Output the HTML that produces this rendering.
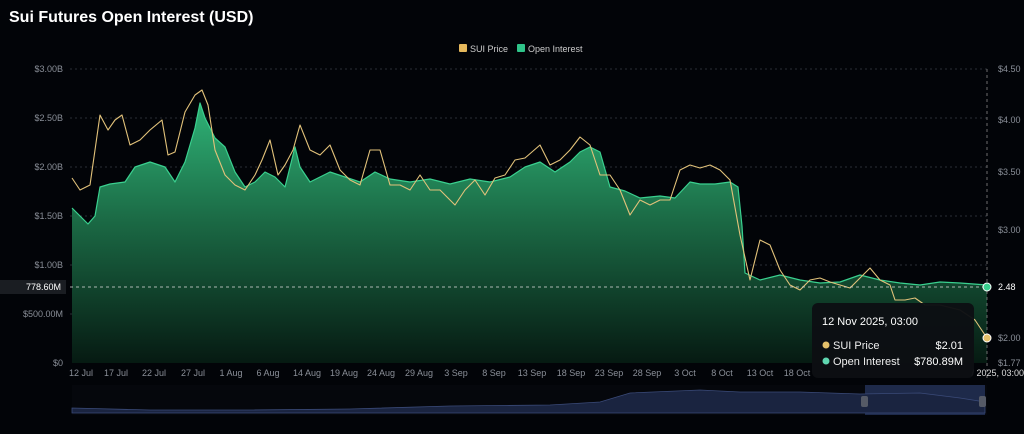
<!DOCTYPE html>
<html><head><meta charset="utf-8"><style>
body{margin:0;background:#020408;width:1024px;height:429px;overflow:hidden;font-family:"Liberation Sans",sans-serif}
</style></head><body>
<svg width="1024" height="429" xmlns="http://www.w3.org/2000/svg" font-family="Liberation Sans, sans-serif">
<defs>
<linearGradient id="g" x1="0" y1="0" x2="0" y2="1">
<stop offset="0" stop-color="#2fb377"/><stop offset="0.45" stop-color="#1b6a45"/><stop offset="1" stop-color="#061a12"/>
</linearGradient>
</defs>
<rect width="1024" height="429" fill="#020408"/>
<text x="9" y="22" fill="#fff" font-size="16" font-weight="bold">Sui Futures Open Interest (USD)</text>
<rect x="459" y="44" width="8" height="8" rx="1" fill="#e5b85c"/>
<text x="470" y="52" fill="#ccc" font-size="9">SUI Price</text>
<rect x="517" y="44" width="8" height="8" rx="1" fill="#2fc489"/>
<text x="528" y="52" fill="#ccc" font-size="9">Open Interest</text>
<g stroke="#2a2e36" stroke-dasharray="2,3" stroke-width="1">
<line x1="70" y1="69" x2="987" y2="69"/><line x1="70" y1="118" x2="987" y2="118"/>
<line x1="70" y1="167" x2="987" y2="167"/><line x1="70" y1="216" x2="987" y2="216"/>
<line x1="70" y1="265" x2="987" y2="265"/><line x1="70" y1="314" x2="987" y2="314"/>
</g>
<g fill="#8a8f98" font-size="9" text-anchor="end">
<text x="63" y="72">$3.00B</text><text x="63" y="121">$2.50B</text><text x="63" y="170">$2.00B</text>
<text x="63" y="219">$1.50B</text><text x="63" y="268">$1.00B</text><text x="63" y="317">$500.00M</text><text x="63" y="366">$0</text>
</g>
<rect x="0" y="280" width="66" height="14" fill="#1a1d22"/>
<text x="61" y="290" fill="#fff" font-size="9" text-anchor="end">778.60M</text>
<g fill="#8a8f98" font-size="9">
<text x="998" y="72">$4.50</text><text x="998" y="123">$4.00</text><text x="998" y="175">$3.50</text>
<text x="998" y="233">$3.00</text><text x="998" y="341">$2.00</text><text x="998" y="366">$1.77</text>
</g>
<text x="998" y="290" fill="#fff" font-size="9">2.48</text>
<path fill="url(#g)" d="M72,363 L72,208 L80,216 L88,224 L95,216 L100,187 L110,184 L125,182 L135,167 L150,162 L165,167 L175,182 L185,162 L195,128 L200,103 L205,118 L215,138 L225,147 L235,172 L245,187 L255,182 L265,172 L275,177 L285,187 L295,147 L300,167 L310,182 L320,177 L330,172 L345,177 L360,182 L375,172 L390,179 L410,182 L430,179 L450,184 L470,179 L490,182 L510,177 L525,167 L540,162 L555,172 L570,162 L580,152 L590,147 L600,152 L610,187 L625,191 L640,198 L660,196 L675,198 L690,182 L700,184 L715,184 L730,182 L738,187 L742,226 L745,273 L760,280 L780,275 L800,280 L820,283 L840,282 L860,275 L880,280 L900,283 L920,285 L940,282 L960,283 L987,285 L987,363 Z"/>
<polyline fill="none" stroke="#3ad08f" stroke-width="1.2" stroke-linejoin="round" points="72,208 80,216 88,224 95,216 100,187 110,184 125,182 135,167 150,162 165,167 175,182 185,162 195,128 200,103 205,118 215,138 225,147 235,172 245,187 255,182 265,172 275,177 285,187 295,147 300,167 310,182 320,177 330,172 345,177 360,182 375,172 390,179 410,182 430,179 450,184 470,179 490,182 510,177 525,167 540,162 555,172 570,162 580,152 590,147 600,152 610,187 625,191 640,198 660,196 675,198 690,182 700,184 715,184 730,182 738,187 742,226 745,273 760,280 780,275 800,280 820,283 840,282 860,275 880,280 900,283 920,285 940,282 960,283 987,285"/>
<polyline fill="none" stroke="#e2c27a" stroke-width="1.1" stroke-linejoin="round" points="72,178 80,190 90,185 100,115 108,130 115,120 122,115 130,145 140,140 150,130 162,120 168,155 175,152 185,112 195,95 202,90 208,105 215,150 225,175 235,185 245,190 255,175 262,160 270,140 278,175 285,165 293,150 300,125 310,150 320,155 330,145 340,170 350,180 360,185 370,150 380,150 390,185 400,185 410,190 420,175 430,190 440,190 455,205 465,190 475,180 485,195 495,178 505,175 515,160 525,158 540,145 550,165 560,160 570,150 580,137 590,145 600,175 610,175 620,190 630,215 640,200 650,205 660,200 670,200 680,170 690,165 700,168 710,165 720,170 730,180 740,235 750,280 760,240 770,245 780,270 790,285 800,290 810,280 820,278 830,282 840,285 850,288 860,278 870,268 880,280 890,285 895,300 905,300 915,298 925,305 940,305 960,310 975,320 987,338"/>
<line x1="70" y1="287" x2="987" y2="287" stroke="#ddd" stroke-dasharray="3,3" stroke-width="0.8"/>
<line x1="987" y1="69" x2="987" y2="378" stroke="#888" stroke-dasharray="3,3" stroke-width="0.8"/>
<circle cx="987" cy="287" r="4" fill="#3ad08f" stroke="#fff" stroke-width="1"/>
<circle cx="987" cy="338" r="4" fill="#e5c06a" stroke="#fff" stroke-width="1"/>
<g fill="#8a8f98" font-size="9" text-anchor="middle">
<text x="81" y="376">12 Jul</text><text x="116" y="376">17 Jul</text><text x="154" y="376">22 Jul</text><text x="193" y="376">27 Jul</text>
<text x="231" y="376">1 Aug</text><text x="268" y="376">6 Aug</text><text x="307" y="376">14 Aug</text><text x="344" y="376">19 Aug</text>
<text x="381" y="376">24 Aug</text><text x="419" y="376">29 Aug</text><text x="456" y="376">3 Sep</text><text x="494" y="376">8 Sep</text>
<text x="532" y="376">13 Sep</text><text x="571" y="376">18 Sep</text><text x="609" y="376">23 Sep</text><text x="647" y="376">28 Sep</text>
<text x="685" y="376">3 Oct</text><text x="722" y="376">8 Oct</text><text x="760" y="376">13 Oct</text><text x="797" y="376">18 Oct</text>
</g>
<text x="1024" y="376" fill="#ddd" font-size="9" text-anchor="end">/ 2025, 03:00</text>
<rect x="72" y="385" width="915" height="30" fill="#05070c"/>
<rect x="865" y="385" width="120" height="30" fill="#1e2a4a"/>
<path fill="#1a2440" stroke="#3a4a78" stroke-width="0.8" d="M72,413 L72,408 L150,410 L250,410 L350,409 L450,406 L550,405 L600,402 L630,393 L700,390 L740,392 L800,392 L860,394 L920,393 L960,398 L985,402 L985,413 Z"/>
<rect x="861" y="396" width="7" height="11" rx="2" fill="#555a66"/>
<rect x="979" y="396" width="7" height="11" rx="2" fill="#555a66"/>
<rect x="812" y="303" width="162" height="75" rx="6" fill="#0d0f13" opacity="0.96"/>
<text x="822" y="325" fill="#fff" font-size="11">12 Nov 2025, 03:00</text>
<circle cx="826" cy="345" r="3.5" fill="#e5c06a"/>
<text x="833" y="349" fill="#eee" font-size="11">SUI Price</text>
<text x="963" y="349" fill="#fff" font-size="11" text-anchor="end">$2.01</text>
<circle cx="826" cy="361" r="3.5" fill="#5fd6b0"/>
<text x="833" y="365" fill="#eee" font-size="11">Open Interest</text>
<text x="963" y="365" fill="#fff" font-size="11" text-anchor="end">$780.89M</text>
</svg>
</body></html>
